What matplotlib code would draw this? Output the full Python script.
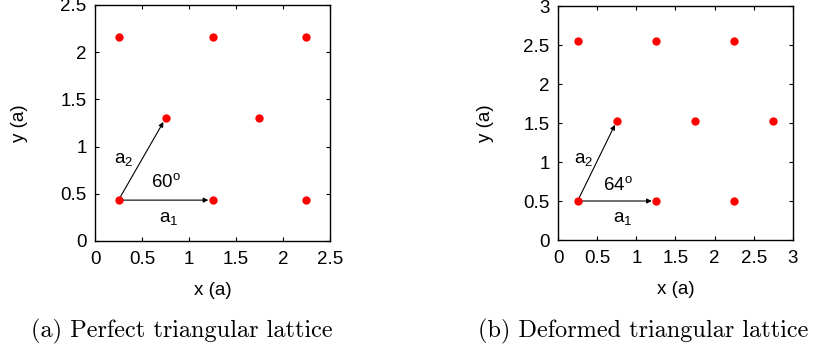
import matplotlib
matplotlib.use("Agg")
import matplotlib.pyplot as plt

plt.rcParams['font.family'] = ['Liberation Sans', 'DejaVu Sans']
plt.rcParams['mathtext.fontset'] = 'custom'
plt.rcParams['mathtext.rm'] = 'Liberation Sans'
plt.rcParams['mathtext.it'] = 'Liberation Sans'

# Lattice sites (units of lattice constant a)
perfect_x = [0.25, 1.25, 2.25, 0.75, 1.75, 0.25, 1.25, 2.25]
perfect_y = [0.433, 0.433, 0.433, 1.299, 1.299, 2.165, 2.165, 2.165]

deformed_x = [0.25, 1.25, 2.25, 0.75, 1.75, 2.75, 0.25, 1.25, 2.25]
deformed_y = [0.5, 0.5, 0.5, 1.525, 1.525, 1.525, 2.55, 2.55, 2.55]

perfect_ticks = [0, 0.5, 1, 1.5, 2, 2.5]
deformed_ticks = [0, 0.5, 1, 1.5, 2, 2.5, 3]

perfect_angle = "60"
deformed_angle = "64"

FS = 13.5

fig = plt.figure(figsize=(8.17, 3.51), dpi=100)
ax1 = fig.add_axes([0.1163, 0.3134, 0.2876, 0.6724])
ax2 = fig.add_axes([0.683, 0.3162, 0.2876, 0.6667])


def draw_panel(ax, xs, ys, ticks, angle, lab_pos, ypad):
    lim = ticks[-1]
    ax.set_xlim(0, lim)
    ax.set_ylim(0, lim)
    ax.set_xticks(ticks)
    ax.set_yticks(ticks)
    ax.set_xticklabels([f"{t:g}" for t in ticks])
    ax.set_yticklabels([f"{t:g}" for t in ticks])
    ax.tick_params(direction='in', length=3, width=0.8, top=True, right=True,
                   labelsize=FS)
    ax.tick_params(axis='x', pad=7)
    ax.tick_params(axis='y', pad=6)
    for s in ax.spines.values():
        s.set_linewidth(1.0)
    ax.set_xlabel("x (a)", fontsize=FS, labelpad=10)
    ax.set_ylabel("y (a)", fontsize=FS, labelpad=ypad)

    # primitive vectors from the first site
    o = (xs[0], ys[0])
    for k in (1, 3):
        ax.annotate("", xy=(xs[k], ys[k]), xytext=o,
                    arrowprops=dict(arrowstyle='-|>', lw=0.8, color='black',
                                    mutation_scale=7, shrinkA=0, shrinkB=3),
                    zorder=2)
    ax.plot(xs, ys, 'o', color='#ff0000', markersize=6, markeredgewidth=0,
            zorder=3, clip_on=False)

    (a1x, a1y), (a2x, a2y), (tx, ty) = lab_pos
    ax.text(a1x, a1y, r"a$_\mathregular{1}$", fontsize=FS, ha='center', va='center')
    ax.text(a2x, a2y, r"a$_\mathregular{2}$", fontsize=FS, ha='center', va='center')
    ax.text(tx, ty, angle + r"$^\mathregular{o}$", fontsize=FS, ha='center', va='center')


draw_panel(ax1, perfect_x, perfect_y, perfect_ticks, perfect_angle,
           [(0.78, 0.24), (0.30, 0.86), (0.75, 0.62)], 23)
draw_panel(ax2, deformed_x, deformed_y, deformed_ticks, deformed_angle,
           [(0.83, 0.28), (0.33, 1.03), (0.76, 0.70)], 21)

fig.text(182 / 817, 1 - 331 / 351, "(a) Perfect triangular lattice",
         family='cmr10', fontsize=17.5, ha='center', va='center')
fig.text(643 / 817, 1 - 331 / 351, "(b) Deformed triangular lattice",
         family='cmr10', fontsize=17.5, ha='center', va='center')

fig.savefig("out.png", dpi=100)
